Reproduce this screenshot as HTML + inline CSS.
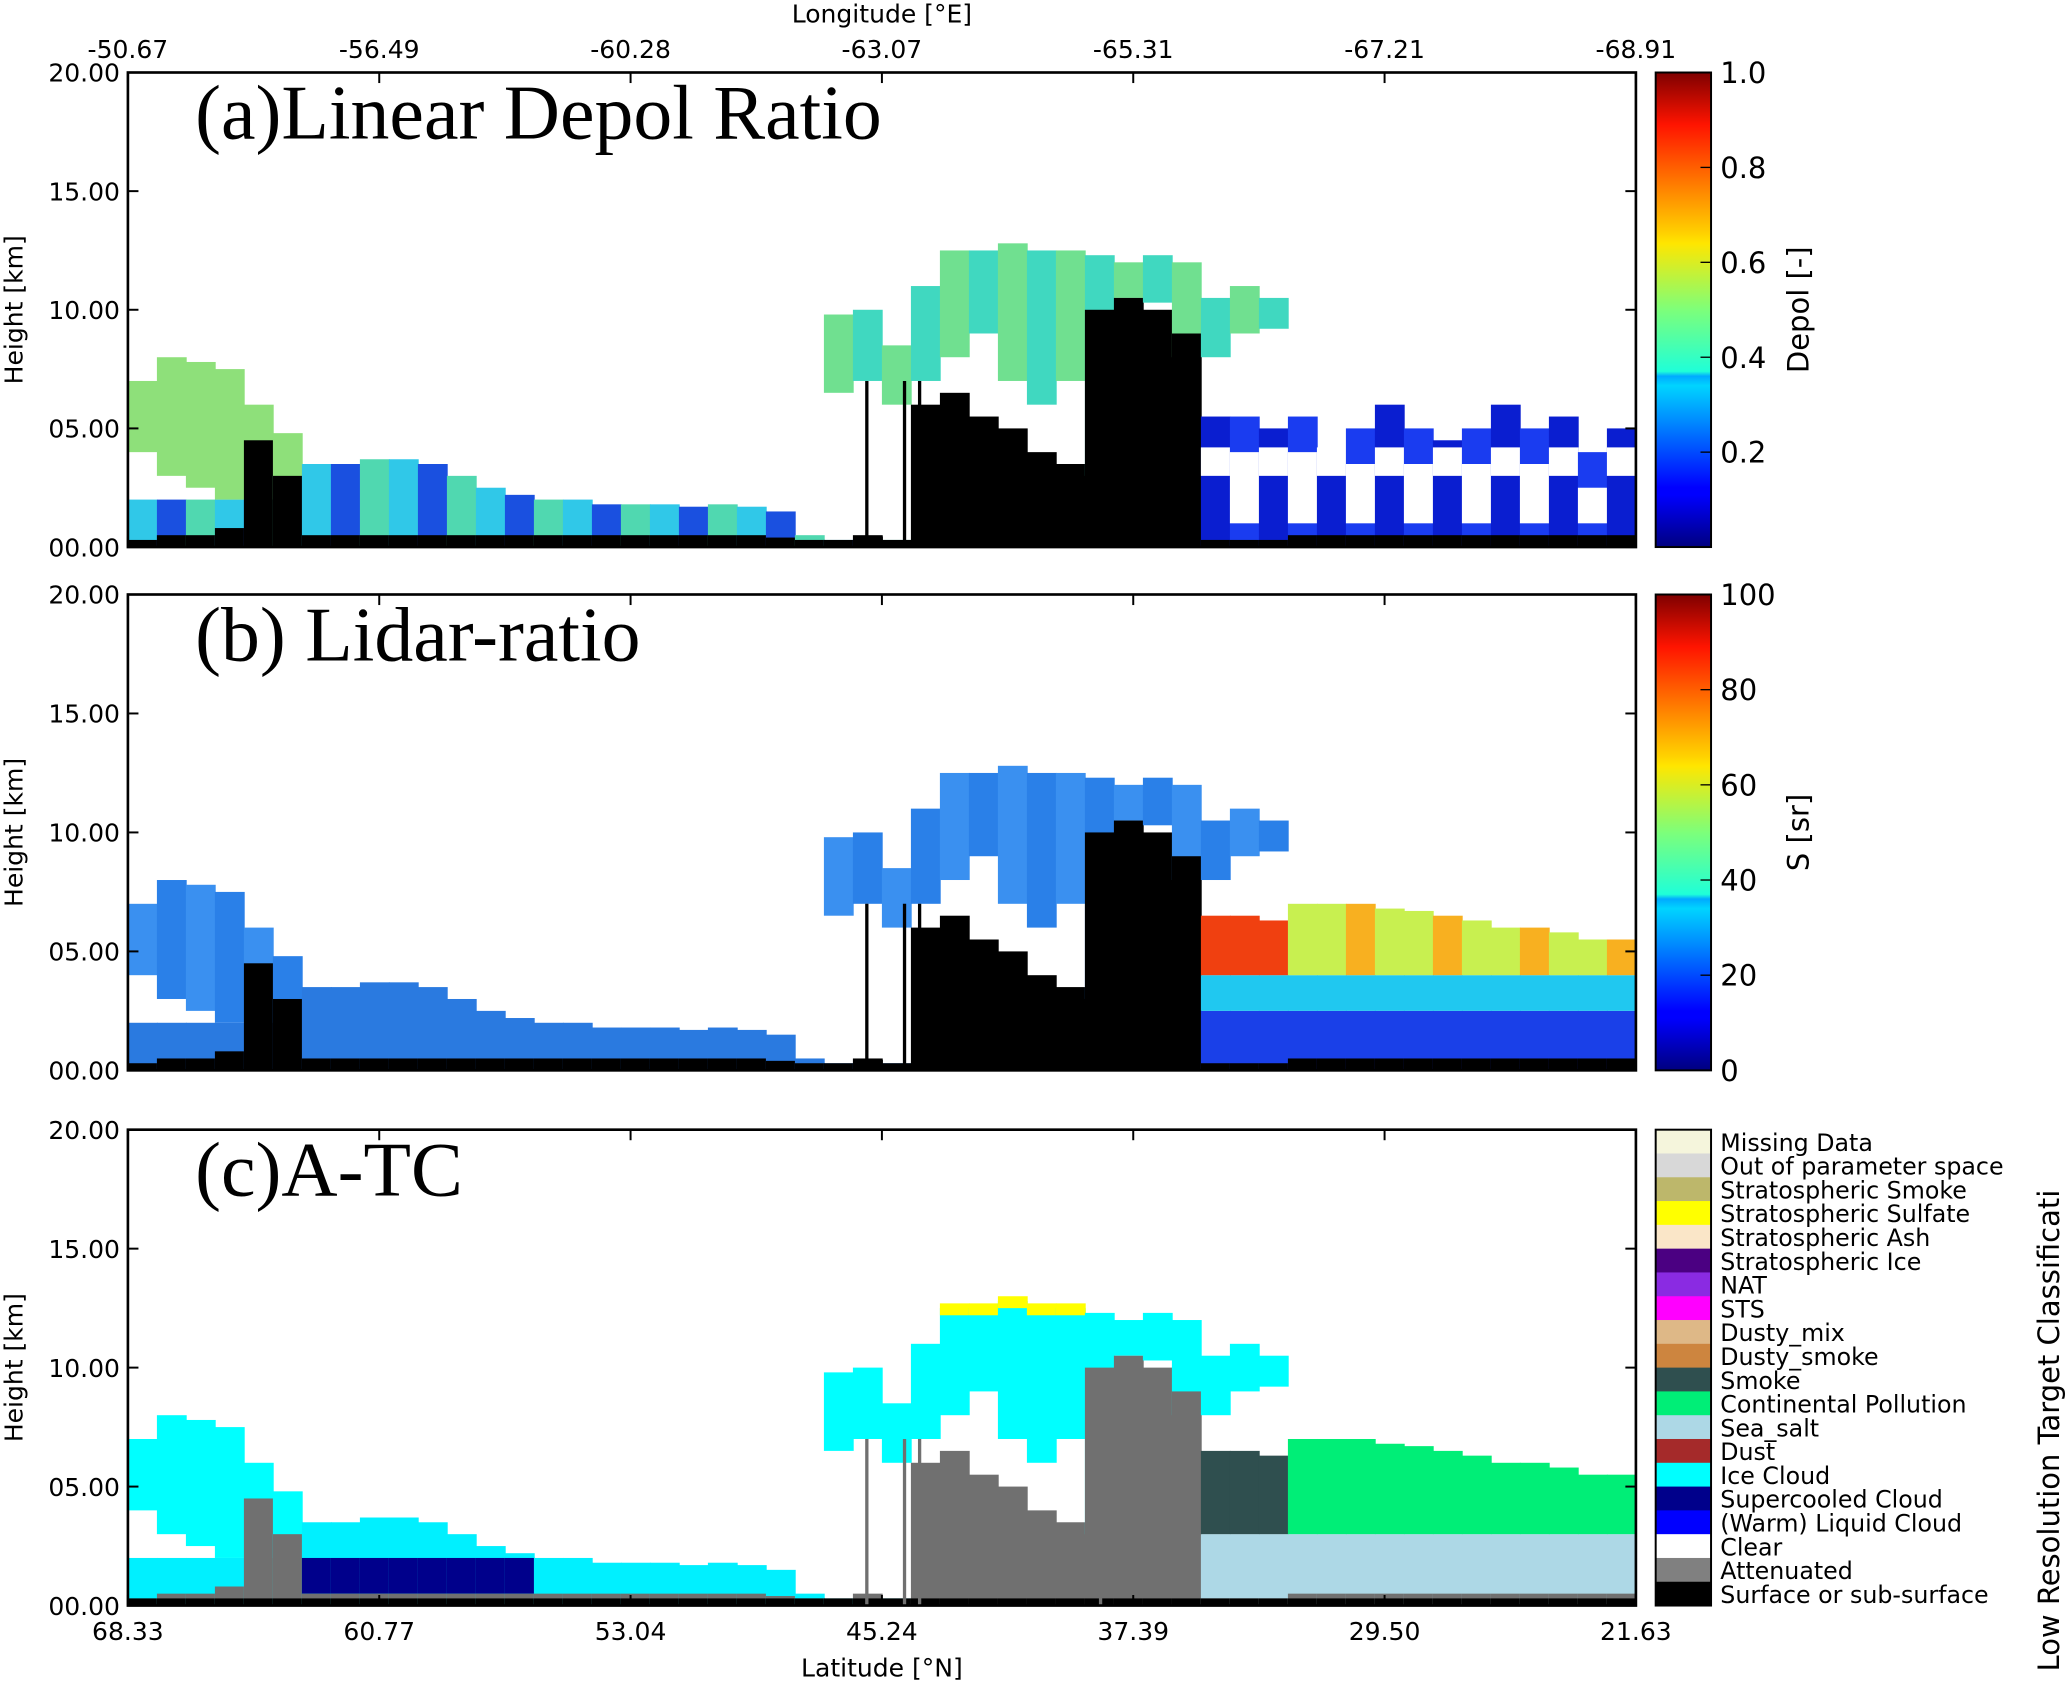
<!DOCTYPE html>
<html><head><meta charset="utf-8">
<style>
html,body{margin:0;padding:0;background:#fff;}
svg{display:block;}
text{font-family:"DejaVu Sans","Liberation Sans",sans-serif;fill:#000;}
.ttl{font-family:"Liberation Serif","DejaVu Serif",serif;font-size:59px;}
.tk{font-size:19px;}
.lg{font-size:18px;}
</style></head>
<body>
<svg id="chart" width="2067" height="1682" viewBox="0 0 1568 1276" xmlns="http://www.w3.org/2000/svg">
<defs>
<linearGradient id="jet" x1="0" y1="1" x2="0" y2="0">
<stop offset="0" stop-color="#00007f"/><stop offset="0.11" stop-color="#0000ff"/>
<stop offset="0.125" stop-color="#0000ff"/><stop offset="0.34" stop-color="#00d4ff"/>
<stop offset="0.36" stop-color="#0af"/><stop offset="0.37" stop-color="#1fffd8"/>
<stop offset="0.5" stop-color="#7dff7a"/><stop offset="0.64" stop-color="#ffe600"/>
<stop offset="0.66" stop-color="#ffd200"/><stop offset="0.89" stop-color="#ff1400"/>
<stop offset="1" stop-color="#7f0000"/>
</linearGradient>
</defs>
<g id="root"></g>
</svg>
<script>
// along-track columns (fraction index 0..51), heights in km
const latTicks = ["68.33","60.77","53.04","45.24","37.39","29.50","21.63"];
const lonTicks = ["-50.67","-56.49","-60.28","-63.07","-65.31","-67.21","-68.91"];
const heightTicks = [0,5,10,15,20];
const depolTicks = [0.2,0.4,0.6,0.8,1.0];
const lidarTicks = [0,20,40,60,80,100];
const surfTop = [0.3,0.5,0.5,0.8,4.5,3,0.5,0.5,0.5,0.5,0.5,0.5,0.5,0.5,0.5,0.5,0.5,0.5,0.5,0.5,0.5,0.5,0.4,0.3,0.3,0.5,0.3,6,6.5,5.5,5,4,3.5,10,10.5,10,9,0.3,0.3,0.3,0.5,0.5,0.5,0.5,0.5,0.5,0.5,0.5,0.5,0.5,0.5,0.5];
const lowTop = [2,2,2,2,2,3,3.5,3.5,3.7,3.7,3.5,3,2.5,2.2,2,2,1.8,1.8,1.8,1.7,1.8,1.7,1.5,0.5,0.3,0.3,0.3,0,0,0,0,0,0,0,0,0,0,5.5,5.5,5,5.5,4,5,6,5,4.5,5,6,5,5.5,4,5];
const iceTop = [7,8,7.8,7.5,6,4.8,0,0,0,0,0,0,0,0,0,0,0,0,0,0,0,0,0,0,9.8,10,8.5,11,12.5,12.5,12.8,12.5,12.5,12.3,12,12.3,12,10.5,11,10.5,0,0,0,0,0,0,0,0,0,0,0,0];
const iceBase = [4,3,2.5,2,2,2,0,0,0,0,0,0,0,0,0,0,0,0,0,0,0,0,0,0,6.5,7,6,7,8,9,7,6,7,3,10.5,10.3,8,8,9,9.2,0,0,0,0,0,0,0,0,0,0,0,0];
const aerTop = [0,0,0,0,0,0,0,0,0,0,0,0,0,0,0,0,0,0,0,0,0,0,0,0,0,0,0,0,0,0,0,0,0,0,0,0,0,6.5,6.5,6.3,7,7,7,6.8,6.7,6.5,6.3,6,6,5.8,5.5,5.5];
const spikes = [0.49,0.515,0.525,0.645];
const legendLabels = ["Missing Data","Out of parameter space","Stratospheric Smoke","Stratospheric Sulfate","Stratospheric Ash","Stratospheric Ice","NAT","STS","Dusty_mix","Dusty_smoke","Smoke","Continental Pollution","Sea_salt","Dust","Ice Cloud","Supercooled Cloud","(Warm) Liquid Cloud","Clear","Attenuated","Surface or sub-surface"];
const legendColors = ["#f5f5dc","#d8d8d8","#bdb76b","#ffff00","#fae6c8","#4b0082","#8a2be2","#ff00ff","#deb887","#cd853f","#2f4f4f","#00ee77","#add8e6","#a52a2a","#00ffff","#00008b","#0000ff","#ffffff","#808080","#000000"];

const NS="http://www.w3.org/2000/svg";
const root=document.getElementById('root');
function el(tag,attrs,parent,txt){const e=document.createElementNS(NS,tag);for(const k in attrs)e.setAttribute(k,attrs[k]);if(txt!==undefined)e.textContent=txt;(parent||root).appendChild(e);return e;}
const X0=97,X1=1241,N=surfTop.length;
const panels=[{y0:55,y1:415,name:'depol',title:'(a)Linear Depol Ratio'},{y0:451,y1:812,name:'lidar',title:'(b) Lidar-ratio'},{y0:857,y1:1218,name:'atc',title:'(c)A-TC'}];
function xs(i){return X0+(X1-X0)*i/N;}
function ysF(p){return h=>p.y1-(p.y1-p.y0)*h/20;}
const cw=(X1-X0)/N;
function col(g,p,i,h0,h1,c,nm){if(h1<=h0)return;const ys=ysF(p);const r=el('rect',{x:xs(i),y:ys(h1),width:cw+0.6,height:ys(h0)-ys(h1),fill:c},g);

}

panels.forEach((p,pi)=>{
  const g=el('g',{},root);
  
  
  const ys=ysF(p);
  for(let i=0;i<N;i++){
    const s=surfTop[i],l=lowTop[i],it=iceTop[i],ib=iceBase[i],a=aerTop[i];
    if(pi===0){
      if(i>=37){col(g,p,i,0,l,(i%2)?'#0a1ed0':'#1a3cf0','low-cloud');
        if(i%2===0)col(g,p,i,1,l-1.5,'#ffffff','clear-gap');else col(g,p,i,3,4.2,'#ffffff','clear-gap');}
      else col(g,p,i,0,l,i%3===0?'#30c8e8':(i%3===1?'#1a50e0':'#50d8b0'),'low-cloud');
      col(g,p,i,ib,it,i<6?'#8ee07a':(i%2?'#40d8c0':'#70e090'),'ice-cloud');
    }else if(pi===1){
      if(a>0){col(g,p,i,0,2.5,'#1a40e8','aerosol-low');col(g,p,i,2.5,4,'#20c8f0','aerosol-mid');
        col(g,p,i,4,a,i<40?'#f04010':(i%3===0?'#f8b020':'#c8f050'),'aerosol-layer');}
      else col(g,p,i,0,l,'#2a7ae0','low-cloud');
      col(g,p,i,ib,it,i%2?'#2a80e8':'#3a90f0','ice-cloud');
    }else{
      if(a>0){col(g,p,i,0,3,'#add8e6','sea-salt');col(g,p,i,3,a,i<40?'#2f4f4f':'#00ee77','aerosol-layer');}
      else{col(g,p,i,0,l,'#00f0ff','low-cloud');if(i>=6&&i<=13)col(g,p,i,0.5,Math.min(2,l),'#00008b','supercooled-cloud');}
      col(g,p,i,ib,it,'#00ffff','ice-cloud');
      if(it>12.4)col(g,p,i,it-0.3,it+0.2,'#ffff00','sulfate-top');
    }
    col(g,p,i,0,s,pi===2?'#707070':'#000','attenuated');
    if(pi===2)col(g,p,i,0,0.3,'#000','surface');
  }
  spikes.forEach(f=>{const ln=el('line',{x1:X0+(X1-X0)*f,x2:X0+(X1-X0)*f,y1:ys(0),y2:ys(7),stroke:pi===2?'#707070':'#000','stroke-width':2.5},g);
    
    });
  const fr=el('rect',{x:X0,y:p.y0,width:X1-X0,height:p.y1-p.y0,fill:'none',stroke:'#000','stroke-width':2},g);
  
  
  heightTicks.forEach(h=>{const y=ys(h);
    el('line',{x1:X0,x2:X0+8,y1:y,y2:y,stroke:'#000','stroke-width':1.5},g);
    el('line',{x1:X1,x2:X1-8,y1:y,y2:y,stroke:'#000','stroke-width':1.5},g);
    const t=el('text',{x:X0-6,y:y+7,'text-anchor':'end',class:'tk'},g,(h<10?'0':'')+h.toFixed(2));
    
    });
  latTicks.forEach((v,k)=>{const x=X0+(X1-X0)*k/6;
    el('line',{x1:x,x2:x,y1:p.y1,y2:p.y1-8,stroke:'#000','stroke-width':1.5},g);
    el('line',{x1:x,x2:x,y1:p.y0,y2:p.y0+8,stroke:'#000','stroke-width':1.5},g);});
  const yl=el('text',{x:0,y:0,transform:`translate(17,${(p.y0+p.y1)/2}) rotate(-90)`,'text-anchor':'middle',class:'tk'},g,'Height [km]');
  
  
  const tt=el('text',{x:148,y:p.y0+50,class:'ttl'},g,p.title);
  
  
});
latTicks.forEach((v,k)=>{const t=el('text',{x:X0+(X1-X0)*k/6,y:1244,'text-anchor':'middle',class:'tk'},root,v);
  
  });
lonTicks.forEach((v,k)=>{const t=el('text',{x:X0+(X1-X0)*k/6,y:44,'text-anchor':'middle',class:'tk'},root,v);
  
  });
let t=el('text',{x:669,y:1272,'text-anchor':'middle',class:'tk'},root,'Latitude  [°N]');


t=el('text',{x:669,y:17,'text-anchor':'middle',class:'tk'},root,'Longitude  [°E]');



function cbar(p,ticks,max,label,nm){
  const r=el('rect',{x:1256,y:p.y0,width:42,height:p.y1-p.y0,fill:'url(#jet)',stroke:'#000','stroke-width':1.5});
  
  
  ticks.forEach(v=>{const y=p.y1-(p.y1-p.y0)*v/max;
    el('line',{x1:1290,x2:1298,y1:y,y2:y,stroke:'#000'});
    const tx=el('text',{x:1305,y:y+8,class:'tk',style:'font-size:22px'},root,max===1?v.toFixed(1):String(v));
    
    });
  const l=el('text',{x:0,y:0,transform:`translate(1372,${(p.y0+p.y1)/2}) rotate(-90)`,'text-anchor':'middle',class:'tk',style:'font-size:22px'},root,label);
  
  
}
cbar(panels[0],depolTicks,1,'Depol [-]','depol-colorbar');
cbar(panels[1],lidarTicks,100,'S [sr]','lidar-ratio-colorbar');
const lh=(1218-857)/legendLabels.length;
legendLabels.forEach((lab,k)=>{const y=857+lh*k;
  const r=el('rect',{x:1256,y:y,width:42,height:lh+0.3,fill:legendColors[k]});
  
  
  const tx=el('text',{x:1305,y:y+lh-2,class:'lg'},root,lab);
  
  });
const lb=el('rect',{x:1256,y:857,width:42,height:361,fill:'none',stroke:'#000','stroke-width':1.5});


t=el('text',{x:0,y:0,transform:'translate(1562,1268) rotate(-90)','text-anchor':'start',class:'tk',style:'font-size:22px'},root,'Low Resolution Target Classificati');


</script>
</body></html>
